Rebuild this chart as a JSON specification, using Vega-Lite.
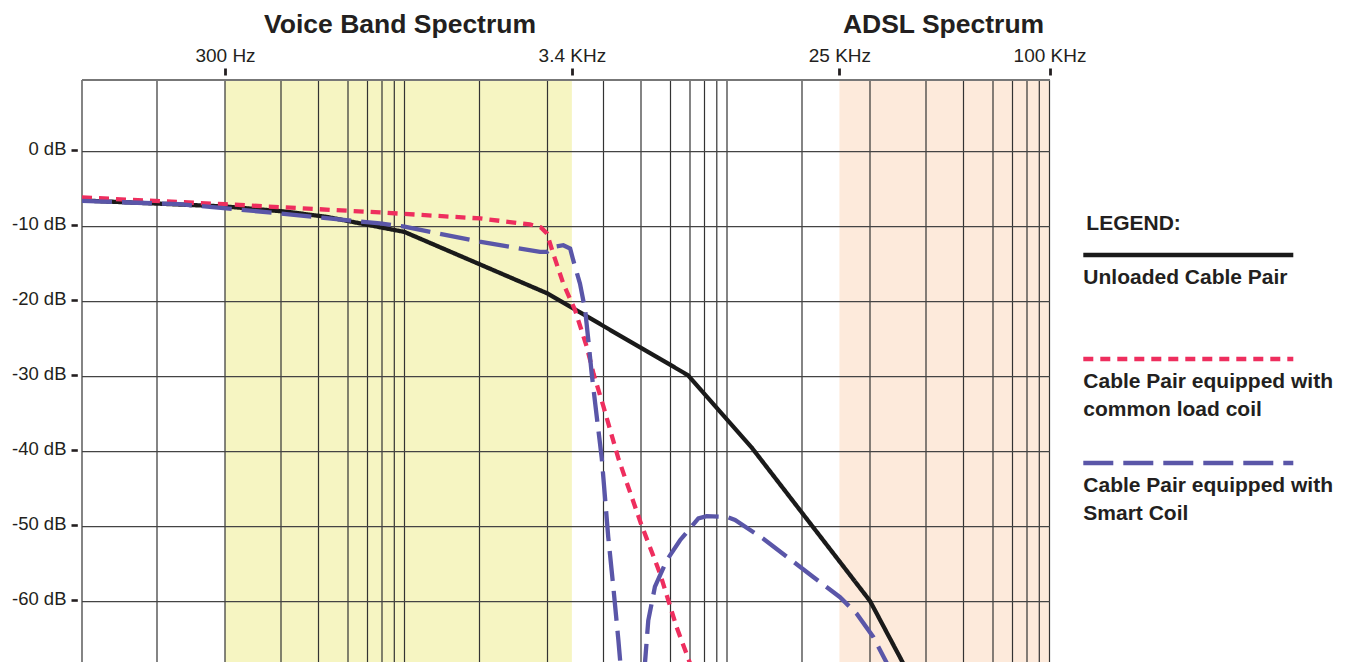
{
  "$schema": "https://vega.github.io/schema/vega-lite/v6.json",
  "width": 968,
  "height": 582,
  "autosize": {"type": "none"},
  "padding": {"left": 82, "top": 80, "right": 299, "bottom": 0},
  "background": "white",
  "config": {"view": {"stroke": null}, "font": "Liberation Sans"},
  "datasets": {
    "bands": [
      {"band": "Voice Band Spectrum", "from": 300, "to": 3400, "titleAt": 955},
      {"band": "ADSL Spectrum", "from": 25000, "to": 100000, "titleAt": 44400}
    ],
    "gridX": [
      {"freq": 100}, {"freq": 200}, {"freq": 300}, {"freq": 400}, {"freq": 500}, {"freq": 600}, {"freq": 700}, {"freq": 800}, {"freq": 900},
      {"freq": 1000}, {"freq": 2000}, {"freq": 3000}, {"freq": 4000}, {"freq": 5000}, {"freq": 6000}, {"freq": 7000}, {"freq": 8000}, {"freq": 9000},
      {"freq": 10000}, {"freq": 20000}, {"freq": 30000}, {"freq": 40000}, {"freq": 50000}, {"freq": 60000}, {"freq": 70000}, {"freq": 80000}, {"freq": 90000},
      {"freq": 100000}
    ],
    "gridY": [
      {"db": 0}, {"db": -10}, {"db": -20}, {"db": -30}, {"db": -40}, {"db": -50}, {"db": -60}
    ],
    "curves": [
      {"series": "Unloaded", "freq": 100, "db": -6.5},
      {"series": "Unloaded", "freq": 300, "db": -7.3},
      {"series": "Unloaded", "freq": 414, "db": -8.0},
      {"series": "Unloaded", "freq": 527, "db": -8.7},
      {"series": "Unloaded", "freq": 1000, "db": -10.7},
      {"series": "Unloaded", "freq": 3000, "db": -18.9},
      {"series": "Unloaded", "freq": 6890, "db": -29.8},
      {"series": "Unloaded", "freq": 12600, "db": -39.5},
      {"series": "Unloaded", "freq": 30000, "db": -59.9},
      {"series": "Unloaded", "freq": 36900, "db": -70},

      {"series": "Load coil", "freq": 100, "db": -6.1},
      {"series": "Load coil", "freq": 300, "db": -7.0},
      {"series": "Load coil", "freq": 785, "db": -8.1},
      {"series": "Load coil", "freq": 2010, "db": -8.9},
      {"series": "Load coil", "freq": 2700, "db": -9.7},
      {"series": "Load coil", "freq": 2885, "db": -10.1},
      {"series": "Load coil", "freq": 2990, "db": -10.9},
      {"series": "Load coil", "freq": 3090, "db": -13.6},
      {"series": "Load coil", "freq": 3254, "db": -17.6},
      {"series": "Load coil", "freq": 3455, "db": -21.1},
      {"series": "Load coil", "freq": 3670, "db": -26.0},
      {"series": "Load coil", "freq": 3800, "db": -29.6},
      {"series": "Load coil", "freq": 4000, "db": -34.0},
      {"series": "Load coil", "freq": 4370, "db": -40.9},
      {"series": "Load coil", "freq": 5000, "db": -49.6},
      {"series": "Load coil", "freq": 5620, "db": -56.2},
      {"series": "Load coil", "freq": 6300, "db": -63.4},
      {"series": "Load coil", "freq": 7330, "db": -70},

      {"series": "Smart Coil", "freq": 100, "db": -6.56},
      {"series": "Smart Coil", "freq": 229, "db": -7.0},
      {"series": "Smart Coil", "freq": 400, "db": -8.24},
      {"series": "Smart Coil", "freq": 785, "db": -9.57},
      {"series": "Smart Coil", "freq": 1000, "db": -10.0},
      {"series": "Smart Coil", "freq": 2000, "db": -12.0},
      {"series": "Smart Coil", "freq": 2870, "db": -13.36},
      {"series": "Smart Coil", "freq": 2990, "db": -13.36},
      {"series": "Smart Coil", "freq": 3090, "db": -12.7},
      {"series": "Smart Coil", "freq": 3254, "db": -12.47},
      {"series": "Smart Coil", "freq": 3370, "db": -12.9},
      {"series": "Smart Coil", "freq": 3425, "db": -14.5},
      {"series": "Smart Coil", "freq": 3545, "db": -17.6},
      {"series": "Smart Coil", "freq": 3640, "db": -21.1},
      {"series": "Smart Coil", "freq": 3700, "db": -25.1},
      {"series": "Smart Coil", "freq": 3765, "db": -29.6},
      {"series": "Smart Coil", "freq": 3865, "db": -35.4},
      {"series": "Smart Coil", "freq": 3965, "db": -40.9},
      {"series": "Smart Coil", "freq": 4115, "db": -51.4},
      {"series": "Smart Coil", "freq": 4240, "db": -58.0},
      {"series": "Smart Coil", "freq": 4370, "db": -65.1},
      {"series": "Smart Coil", "freq": 4540, "db": -75},
      {"series": "Smart Coil", "freq": 4770, "db": -88},
      {"series": "Smart Coil", "freq": 5000, "db": -75},
      {"series": "Smart Coil", "freq": 5230, "db": -62.5},
      {"series": "Smart Coil", "freq": 5450, "db": -58.0},
      {"series": "Smart Coil", "freq": 5860, "db": -54.5},
      {"series": "Smart Coil", "freq": 6470, "db": -51.8},
      {"series": "Smart Coil", "freq": 7560, "db": -48.9},
      {"series": "Smart Coil", "freq": 8170, "db": -48.6},
      {"series": "Smart Coil", "freq": 9990, "db": -48.7},
      {"series": "Smart Coil", "freq": 10770, "db": -49.1},
      {"series": "Smart Coil", "freq": 13990, "db": -51.6},
      {"series": "Smart Coil", "freq": 21390, "db": -56.7},
      {"series": "Smart Coil", "freq": 25090, "db": -59.4},
      {"series": "Smart Coil", "freq": 27710, "db": -61.6},
      {"series": "Smart Coil", "freq": 30510, "db": -64.7},
      {"series": "Smart Coil", "freq": 35300, "db": -72}
    ],
    "legend": [
      {"series": "Unloaded", "label": ["Unloaded Cable Pair"]},
      {"series": "Load coil", "label": ["Cable Pair equipped with", "common load coil"]},
      {"series": "Smart Coil", "label": ["Cable Pair equipped with", "Smart Coil"]}
    ]
  },
  "layer": [
    {
      "layer": [
        {
          "data": {"name": "bands"},
          "mark": {"type": "rect"},
          "encoding": {
            "x": {
              "field": "from", "type": "quantitative",
              "scale": {
                "type": "log", "nice": false,
                "domain": [100, 200, 300, 400, 500, 600, 700, 800, 900, 1000, 2000, 3000, 4000, 5000, 6000, 7000, 8000, 9000, 10000, 20000, 30000, 40000, 50000, 60000, 70000, 80000, 90000, 100000],
                "range": [0, 75, 143, 199, 236.5, 266, 285.5, 300, 312.3, 322.5, 397.5, 465.5, 521.5, 559, 588.5, 608, 622.5, 634.8, 645, 720, 788, 844, 881.5, 911, 930.5, 945, 957.3, 967.5]
              },
              "axis": {
                "orient": "top",
                "values": [300, 3400, 25000, 100000],
                "labelExpr": "datum.value == 300 ? '300 Hz' : datum.value == 3400 ? '3.4 KHz' : datum.value == 25000 ? '25 KHz' : '100 KHz'",
                "grid": false, "domain": false,
                "tickSize": 7, "tickWidth": 2.8, "tickColor": "#231f20",
                "offset": 5, "labelPadding": 3,
                "labelFont": "Liberation Sans", "labelFontSize": 19, "labelColor": "#231f20",
                "labelFlush": false, "labelOverlap": false, "labelBound": false,
                "title": null
              }
            },
            "x2": {"field": "to"},
            "fill": {
              "field": "band", "type": "nominal",
              "scale": {"domain": ["Voice Band Spectrum", "ADSL Spectrum"], "range": ["#f6f5c2", "#fdeadb"]},
              "legend": null
            }
          }
        },
        {
          "data": {"name": "gridX"},
          "mark": {"type": "rule", "color": "#333333", "strokeWidth": 1.2},
          "encoding": {"x": {"field": "freq", "type": "quantitative"}}
        },
        {
          "data": {"name": "gridY"},
          "mark": {"type": "rule", "color": "#444444", "strokeWidth": 1.2},
          "encoding": {
            "y": {
              "field": "db", "type": "quantitative",
              "scale": {"domain": [-68.04, 9.56], "nice": false, "zero": false},
              "axis": {
                "orient": "left",
                "values": [0, -10, -20, -30, -40, -50, -60],
                "labelExpr": "datum.value + ' dB'",
                "grid": false, "domain": false,
                "tickSize": 6.3, "tickWidth": 2.6, "tickColor": "#231f20",
                "tickOffset": -2, "labelOffset": -1,
                "offset": 4.7, "labelPadding": 5,
                "labelFont": "Liberation Sans", "labelFontSize": 18.5, "labelColor": "#231f20",
                "title": null
              }
            }
          }
        },
        {
          "data": {"values": [{"edge": "top"}]},
          "mark": {"type": "rule", "color": "#777777", "strokeWidth": 2},
          "encoding": {"y": {"datum": 9.56}}
        },
        {
          "data": {"name": "curves"},
          "mark": {"type": "line", "strokeWidth": 4.3, "clip": true},
          "encoding": {
            "x": {"field": "freq", "type": "quantitative"},
            "y": {"field": "db", "type": "quantitative"},
            "color": {
              "field": "series", "type": "nominal",
              "scale": {"domain": ["Unloaded", "Load coil", "Smart Coil"], "range": ["#1a1a1a", "#ee2e5e", "#5a56a8"]},
              "legend": null
            },
            "strokeDash": {
              "field": "series", "type": "nominal",
              "scale": {"domain": ["Unloaded", "Load coil", "Smart Coil"], "range": [[1, 0], [10, 7], [30, 10]]},
              "legend": null
            }
          }
        },
        {
          "data": {"name": "bands"},
          "mark": {"type": "text", "fontSize": 26.5, "fontWeight": "bold", "font": "Liberation Sans", "baseline": "alphabetic", "align": "center", "color": "#231f20"},
          "encoding": {
            "x": {"field": "titleAt", "type": "quantitative"},
            "y": {"datum": 15.79},
            "text": {"field": "band"}
          }
        }
      ]
    },
    {
      "layer": [
        {
          "data": {"name": "legend"},
          "mark": {"type": "rule", "strokeWidth": 4.3},
          "encoding": {
            "x": {"datum": 0, "type": "quantitative", "scale": {"domain": [0, 1], "range": [1001.3, 1211.3]}, "axis": null},
            "x2": {"datum": 1},
            "y": {"field": "series", "type": "nominal", "scale": {"type": "point", "domain": ["Unloaded", "Load coil", "Smart Coil"], "range": [175, 383], "padding": 0}, "axis": null},
            "color": {"field": "series", "type": "nominal", "legend": null},
            "strokeDash": {"field": "series", "type": "nominal", "legend": null}
          }
        },
        {
          "data": {"name": "legend"},
          "mark": {"type": "text", "align": "left", "baseline": "alphabetic", "dy": 29, "fontSize": 21, "fontWeight": "bold", "font": "Liberation Sans", "lineHeight": 28, "color": "#231f20"},
          "encoding": {
            "x": {"datum": 0, "type": "quantitative"},
            "y": {"field": "series", "type": "nominal"},
            "text": {"field": "label"}
          }
        },
        {
          "data": {"values": [{"title": "LEGEND:"}]},
          "mark": {"type": "text", "align": "left", "baseline": "alphabetic", "dy": -25, "dx": 3, "fontSize": 21, "fontWeight": "bold", "font": "Liberation Sans", "color": "#231f20"},
          "encoding": {
            "x": {"datum": 0, "type": "quantitative"},
            "y": {"datum": "Unloaded", "type": "nominal"},
            "text": {"field": "title"}
          }
        }
      ]
    }
  ],
  "resolve": {"scale": {"x": "independent", "y": "independent"}}
}
